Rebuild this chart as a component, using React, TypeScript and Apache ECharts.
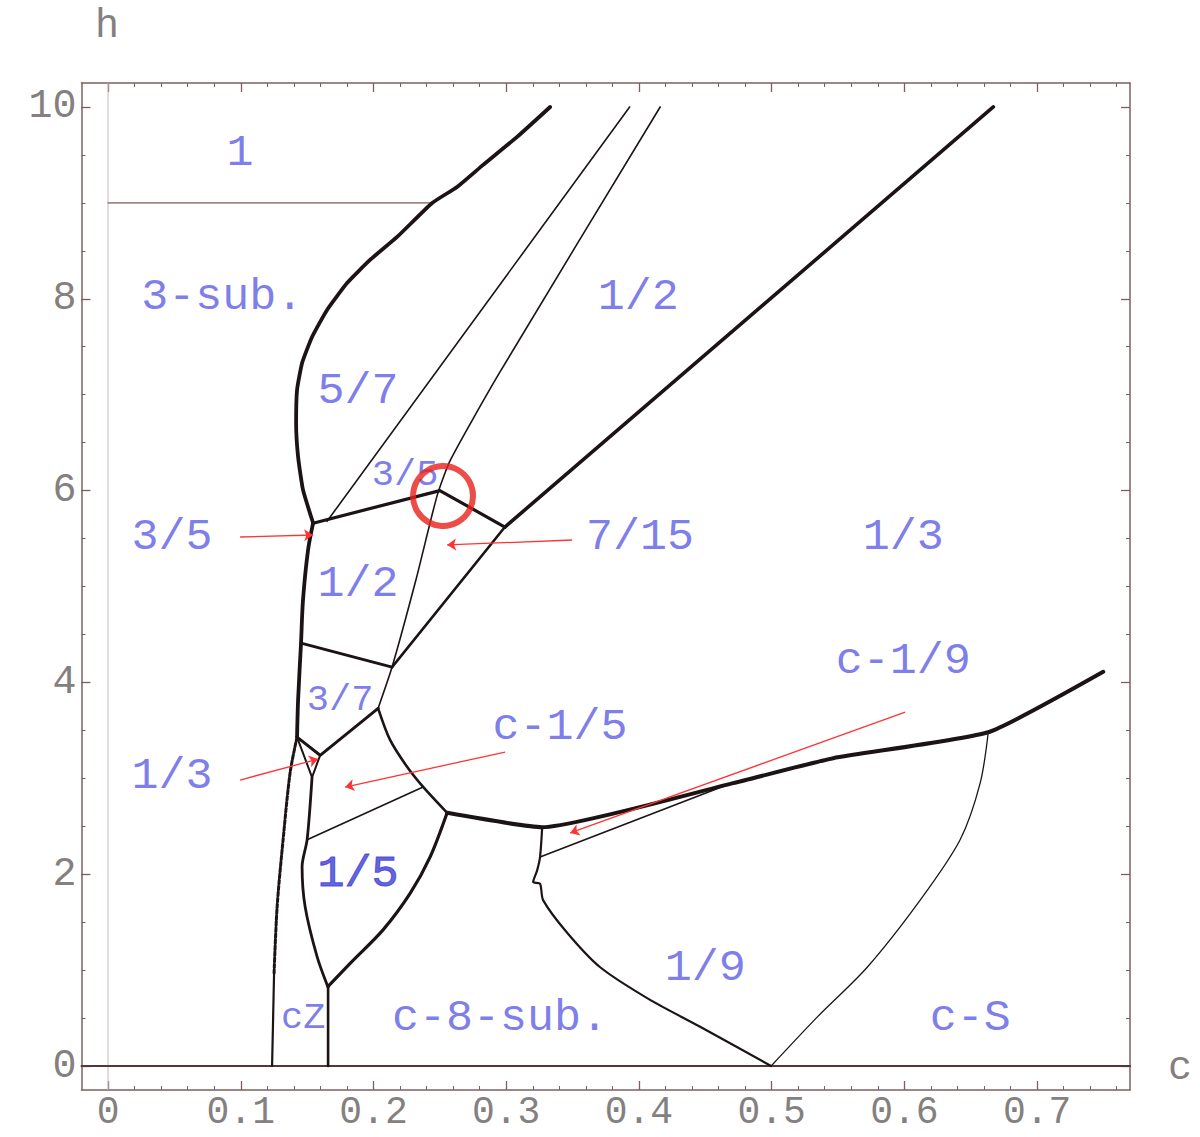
import React, { useEffect, useRef } from "react";
import * as echarts from "echarts";

// ---------- axis ticks ----------
const xMajorTicks = [0, 0.1, 0.2, 0.3, 0.4, 0.5, 0.6, 0.7];
const xMinorTicks = [
  0, 0.02, 0.04, 0.06, 0.08, 0.1, 0.12, 0.14, 0.16, 0.18, 0.2, 0.22, 0.24, 0.26, 0.28, 0.3,
  0.32, 0.34, 0.36, 0.38, 0.4, 0.42, 0.44, 0.46, 0.48, 0.5, 0.52, 0.54, 0.56, 0.58, 0.6,
  0.62, 0.64, 0.66, 0.68, 0.7, 0.72, 0.74, 0.76,
];
const yMajorTicks = [0, 2, 4, 6, 8, 10];
const yMinorTicks = [
  0, 0.5, 1, 1.5, 2, 2.5, 3, 3.5, 4, 4.5, 5, 5.5, 6, 6.5, 7, 7.5, 8, 8.5, 9, 9.5, 10,
];

// ---------- axes drawn inside the frame ----------
const cAxisLine = [[0, -0.25], [0, 10.25]];
const hAxisLine = [[-0.02, 0], [0.77, 0]];

// ---------- phase boundaries [c, h] ----------
const outerBoundary = [
  [0.1545, 5.662], [0.1469, 6.007], [0.1432, 6.351], [0.1417, 6.705], [0.1424, 7.049],
  [0.1462, 7.331], [0.1537, 7.602], [0.165, 7.884], [0.1801, 8.165], [0.1974, 8.405],
  [0.2178, 8.645], [0.2442, 8.999], [0.263, 9.166], [0.2826, 9.396], [0.3082, 9.688], [0.3331, 10.0],
];
const h9Line = [[0, 9], [0.244, 9]];
const thinA = [[0.165, 5.68], [0.393, 10]];
const thinB = [
  [0.2035, 3.73], [0.214, 4.16], [0.232, 5.07], [0.248, 5.95], [0.258, 6.32], [0.295, 7.23], [0.416, 10],
];
const upperThick = [[0.1545, 5.66], [0.25, 6.0], [0.299, 5.62]];
const bigDiagonal = [[0.299, 5.62], [0.667, 10]];
const halfThirdBoundary = [[0.299, 5.62], [0.214, 4.16]];
const leftBoundary = [
  [0.1545, 5.66], [0.1507, 5.38], [0.1469, 4.86], [0.1454, 4.41], [0.1432, 3.82], [0.1424, 3.43],
];
const halfSevenBoundary = [[0.1454, 4.41], [0.214, 4.16]];
const lowerSeven = [[0.1424, 3.43], [0.1598, 3.24], [0.2035, 3.73]];
const triangleSide = [[0.1424, 3.43], [0.1537, 3.01], [0.1598, 3.24]];
const fifthLeft = [
  [0.1537, 3.01], [0.15, 2.36], [0.1462, 2.08], [0.1485, 1.66], [0.1575, 1.14], [0.1658, 0.82],
];
const zigzagUpper = [[0.1424, 3.43], [0.1372, 3.06], [0.1319, 2.36], [0.1274, 1.66], [0.1251, 0.97]];
const zigzagLower = [[0.1251, 0.97], [0.1236, 0]];
const sixthVertical = [[0.1658, 0.82], [0.1658, 0]];
const fifthRight = [
  [0.1658, 0.83], [0.1824, 1.07], [0.2072, 1.42], [0.2276, 1.8], [0.2427, 2.18], [0.2555, 2.64],
];
const sevenRight = [[0.2035, 3.73], [0.2125, 3.4], [0.2253, 3.12], [0.2374, 2.91], [0.2555, 2.64]];
const fifthTop = [[0.15, 2.36], [0.2374, 2.91]];
const mainLower = [
  [0.2555, 2.64], [0.3271, 2.49], [0.471, 2.95], [0.5464, 3.21], [0.6632, 3.48], [0.7498, 4.11],
];
const ninthTop = [[0.3255, 2.18], [0.47, 2.95]];
const ninthLeft = [
  [0.3271, 2.49], [0.3255, 2.18], [0.3233, 2.04], [0.3203, 1.92], [0.3255, 1.9], [0.3278, 1.73],
  [0.3459, 1.39], [0.3708, 1.03], [0.4084, 0.69], [0.4461, 0.41], [0.4996, 0],
];
const ninthRight = [
  [0.6632, 3.48], [0.6571, 2.95], [0.642, 2.36], [0.6119, 1.73], [0.572, 1.03], [0.5343, 0.51], [0.4996, 0],
];

// ---------- region labels ----------
const bigLabels = [
  { name: "1", value: [0.0995, 9.52] },
  { name: "3-sub.", value: [0.086, 8.01] },
  { name: "1/2", value: [0.3994, 8.01] },
  { name: "5/7", value: [0.1884, 7.03] },
  { name: "3/5", value: [0.0482, 5.506] },
  { name: "7/15", value: [0.4009, 5.506] },
  { name: "1/3", value: [0.5991, 5.506] },
  { name: "1/2", value: [0.1884, 5.016] },
  { name: "c-1/9", value: [0.5991, 4.213] },
  { name: "c-1/5", value: [0.3406, 3.525] },
  { name: "1/3", value: [0.0482, 3.014] },
  { name: "1/9", value: [0.4499, 1.022] },
  { name: "c-8-sub.", value: [0.2954, 0.5] },
  { name: "c-S", value: [0.6496, 0.5] },
];
const boldLabels = [{ name: "1/5", value: [0.1884, 1.992] }];
const smallLabels = [
  { name: "3/5", value: [0.2238, 6.163] },
  { name: "3/7", value: [0.1748, 3.817] },
  { name: "cZ", value: [0.147, 0.5] },
];

// ---------- red annotations ----------
const arrows = [
  [[0.0995, 5.516], [0.1545, 5.537]],
  [[0.3497, 5.485], [0.2555, 5.433]],
  [[0.0995, 2.982], [0.1583, 3.201]],
  [[0.2992, 3.274], [0.1786, 2.909]],
  [[0.6006, 3.691], [0.3482, 2.43]],
];
const circleMark = [[0.2524, 5.944]];

const MONO = "'Liberation Mono', 'DejaVu Sans Mono', monospace";
const FRAME = "#7d5f5f";
const TICKLABEL = "#858080";
const INK = "#1c1414";
const BLUE = "#5c5ce6";

function lineSeries(data: number[][], width: number, opts: any = {}) {
  return {
    type: "line",
    data,
    showSymbol: false,
    symbol: "none",
    silent: true,
    smooth: opts.smooth ?? false,
    lineStyle: { color: opts.color ?? INK, width, type: opts.type ?? "solid", cap: "round", join: "round" },
    z: opts.z ?? 3,
  };
}

function labelSeries(data: any[], size: number, color: string, border = 0) {
  return {
    type: "scatter",
    data,
    symbolSize: 0,
    silent: true,
    z: 6,
    label: {
      show: true,
      position: "inside",
      formatter: "{b}",
      fontFamily: MONO,
      fontSize: size,
      color,
      textBorderColor: color,
      textBorderWidth: border,
    },
  };
}

const xAxisBase = {
  type: "value",
  min: -0.02,
  max: 0.77,
  splitLine: { show: false },
};
const yAxisBase = {
  type: "value",
  min: -0.25,
  max: 10.25,
  splitLine: { show: false },
};

export default function App() {
  const ref = useRef<HTMLDivElement>(null);
  useEffect(() => {
    if (!ref.current) return;
    const chart = echarts.init(ref.current, null, { renderer: "svg" });
    const fmtX = (v: number) => (v === 0 ? "0" : v.toFixed(1));
    chart.setOption({
      animation: false,
      backgroundColor: "#ffffff",
      grid: { left: 81.5, right: 70, top: 83, bottom: 47, containLabel: false },
      xAxis: [
        {
          ...xAxisBase,
          position: "bottom",
          axisLine: { show: true, onZero: false, lineStyle: { color: FRAME, width: 1.5 } },
          axisTick: { show: true, inside: true, length: 9, customValues: xMajorTicks, lineStyle: { color: FRAME, width: 1.3 } },
          axisLabel: { show: true, customValues: xMajorTicks, formatter: fmtX, fontFamily: MONO, fontSize: 38, lineHeight: 38, color: TICKLABEL, margin: 3 },
        },
        {
          ...xAxisBase,
          position: "bottom",
          axisLine: { show: false, onZero: false },
          axisTick: { show: true, inside: true, length: 4, customValues: xMinorTicks, lineStyle: { color: FRAME, width: 1 } },
          axisLabel: { show: false },
        },
        {
          ...xAxisBase,
          position: "top",
          axisLine: { show: true, onZero: false, lineStyle: { color: FRAME, width: 1.5 } },
          axisTick: { show: true, inside: true, length: 9, customValues: xMajorTicks, lineStyle: { color: FRAME, width: 1.3 } },
          axisLabel: { show: false },
        },
        {
          ...xAxisBase,
          position: "top",
          axisLine: { show: false, onZero: false },
          axisTick: { show: true, inside: true, length: 4, customValues: xMinorTicks, lineStyle: { color: FRAME, width: 1 } },
          axisLabel: { show: false },
        },
      ],
      yAxis: [
        {
          ...yAxisBase,
          position: "left",
          axisLine: { show: true, onZero: false, lineStyle: { color: FRAME, width: 1.5 } },
          axisTick: { show: true, inside: true, length: 9, customValues: yMajorTicks, lineStyle: { color: FRAME, width: 1.3 } },
          axisLabel: { show: true, customValues: yMajorTicks, fontFamily: MONO, fontSize: 40, color: TICKLABEL, margin: 5 },
        },
        {
          ...yAxisBase,
          position: "left",
          axisLine: { show: false, onZero: false },
          axisTick: { show: true, inside: true, length: 4, customValues: yMinorTicks, lineStyle: { color: FRAME, width: 1 } },
          axisLabel: { show: false },
        },
        {
          ...yAxisBase,
          position: "right",
          axisLine: { show: true, onZero: false, lineStyle: { color: FRAME, width: 1.5 } },
          axisTick: { show: true, inside: true, length: 9, customValues: yMajorTicks, lineStyle: { color: FRAME, width: 1.3 } },
          axisLabel: { show: false },
        },
        {
          ...yAxisBase,
          position: "right",
          axisLine: { show: false, onZero: false },
          axisTick: { show: true, inside: true, length: 4, customValues: yMinorTicks, lineStyle: { color: FRAME, width: 1 } },
          axisLabel: { show: false },
        },
      ],
      graphic: [
        { type: "text", left: 95, top: 6, style: { text: "h", font: `40px ${MONO}`, fill: TICKLABEL } },
        { type: "text", left: 1168, top: 1048, style: { text: "c", font: `40px ${MONO}`, fill: TICKLABEL } },
      ],
      series: [
        lineSeries(cAxisLine, 1, { color: "#cbb6b6", z: 2 }),
        lineSeries(hAxisLine, 2, { color: "#4e3a3a", z: 2 }),
        lineSeries(h9Line, 1.6, { color: "#a08888" }),
        lineSeries(outerBoundary, 3.8, { smooth: 0.15 }),
        lineSeries(thinA, 1.6),
        lineSeries(thinB, 1.6, { smooth: 0.2 }),
        lineSeries(upperThick, 3.2),
        lineSeries(bigDiagonal, 3.6),
        lineSeries(halfThirdBoundary, 2.6),
        lineSeries(leftBoundary, 3.8, { smooth: 0.3 }),
        lineSeries(halfSevenBoundary, 2.8),
        lineSeries(lowerSeven, 3),
        lineSeries(triangleSide, 2),
        lineSeries(fifthLeft, 2.8, { smooth: 0.3 }),
        lineSeries(zigzagUpper, 3, { type: [4, 2], smooth: 0.3 }),
        lineSeries(zigzagLower, 2.2),
        lineSeries(sixthVertical, 2.6),
        lineSeries(fifthRight, 3.2, { smooth: 0.3 }),
        lineSeries(sevenRight, 2.6, { smooth: 0.3 }),
        lineSeries(fifthTop, 1.6),
        lineSeries(mainLower, 4, { smooth: 0.15 }),
        lineSeries(ninthTop, 1.6),
        lineSeries(ninthLeft, 2.2, { smooth: 0.25 }),
        lineSeries(ninthRight, 1.3, { smooth: 0.3 }),
        {
          type: "lines",
          coordinateSystem: "cartesian2d",
          silent: true,
          z: 7,
          symbol: ["none", "arrow"],
          symbolSize: [0, 9],
          lineStyle: { color: "#ff3333", width: 1.3, opacity: 1 },
          data: arrows.map((coords) => ({ coords })),
        },
        {
          type: "scatter",
          data: circleMark,
          symbol: "circle",
          symbolSize: 60,
          silent: true,
          z: 8,
          itemStyle: { color: "rgba(0,0,0,0)", borderColor: "#e8201c", borderWidth: 6 },
        },
        labelSeries(bigLabels, 45, BLUE),
        labelSeries(boldLabels, 45, "#3a3ad8", 1),
        labelSeries(smallLabels, 37, BLUE),
      ],
    });
    return () => chart.dispose();
  }, []);
  return (
    <div
      ref={ref}
      style={{ position: "absolute", left: 0, top: 0, width: 1200, height: 1137, background: "#fff" }}
    />
  );
}
